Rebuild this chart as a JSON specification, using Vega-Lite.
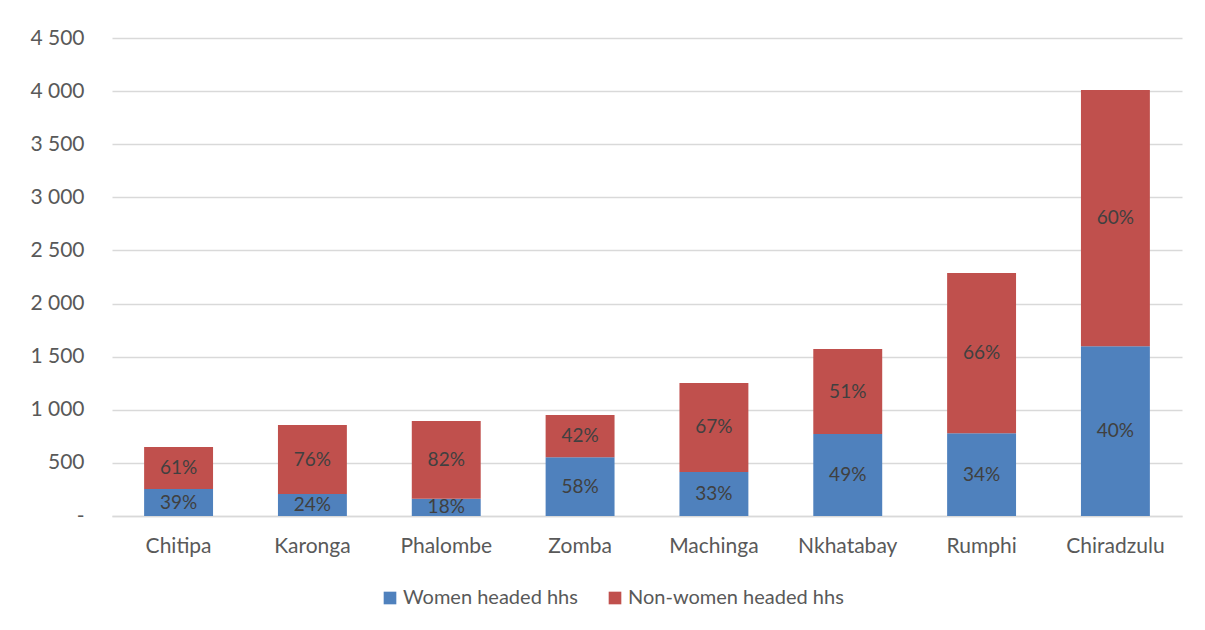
{
  "$schema": "https://vega.github.io/schema/vega-lite/v6.json",
  "width": 1070,
  "height": 478,
  "autosize": "none",
  "padding": {"left": 112, "top": 38, "right": 23, "bottom": 114},
  "background": "white",
  "config": {
    "view": {"stroke": null},
    "font": "Lato"
  },
  "data": {
    "values": [
      {"district": "Chitipa", "series": "Women headed hhs", "ord": 1, "value": 254, "label": "39%"},
      {"district": "Chitipa", "series": "Non-women headed hhs", "ord": 2, "value": 396, "label": "61%"},
      {"district": "Karonga", "series": "Women headed hhs", "ord": 1, "value": 206, "label": "24%"},
      {"district": "Karonga", "series": "Non-women headed hhs", "ord": 2, "value": 651, "label": "76%"},
      {"district": "Phalombe", "series": "Women headed hhs", "ord": 1, "value": 163, "label": "18%"},
      {"district": "Phalombe", "series": "Non-women headed hhs", "ord": 2, "value": 731, "label": "82%"},
      {"district": "Zomba", "series": "Women headed hhs", "ord": 1, "value": 553, "label": "58%"},
      {"district": "Zomba", "series": "Non-women headed hhs", "ord": 2, "value": 398, "label": "42%"},
      {"district": "Machinga", "series": "Women headed hhs", "ord": 1, "value": 415, "label": "33%"},
      {"district": "Machinga", "series": "Non-women headed hhs", "ord": 2, "value": 837, "label": "67%"},
      {"district": "Nkhatabay", "series": "Women headed hhs", "ord": 1, "value": 772, "label": "49%"},
      {"district": "Nkhatabay", "series": "Non-women headed hhs", "ord": 2, "value": 800, "label": "51%"},
      {"district": "Rumphi", "series": "Women headed hhs", "ord": 1, "value": 780, "label": "34%"},
      {"district": "Rumphi", "series": "Non-women headed hhs", "ord": 2, "value": 1508, "label": "66%"},
      {"district": "Chiradzulu", "series": "Women headed hhs", "ord": 1, "value": 1597, "label": "40%"},
      {"district": "Chiradzulu", "series": "Non-women headed hhs", "ord": 2, "value": 2414, "label": "60%"}
    ]
  },
  "transform": [
    {"stack": "value", "groupby": ["district"], "sort": [{"field": "ord", "order": "ascending"}], "as": ["v0", "v1"]},
    {"calculate": "(datum.v0 + datum.v1) / 2", "as": "vmid"}
  ],
  "encoding": {
    "x": {
      "field": "district",
      "type": "nominal",
      "sort": ["Chitipa", "Karonga", "Phalombe", "Zomba", "Machinga", "Nkhatabay", "Rumphi", "Chiradzulu"],
      "scale": {"paddingInner": 0.485, "paddingOuter": 0.24},
      "axis": {
        "title": null,
        "labelAngle": 0,
        "labelFontSize": 21,
        "labelColor": "#595959",
        "labelPadding": 19,
        "ticks": false,
        "domain": true,
        "domainColor": "#d9d9d9",
        "domainWidth": 1.5
      }
    }
  },
  "layer": [
    {
      "mark": {"type": "bar"},
      "encoding": {
        "y": {
          "field": "v0",
          "type": "quantitative",
          "scale": {"domain": [0, 4500]},
          "axis": {
            "title": null,
            "values": [0, 500, 1000, 1500, 2000, 2500, 3000, 3500, 4000, 4500],
            "labelExpr": "datum.value == 0 ? '-' : replace(format(datum.value, ','), ',', ' ')",
            "labelFontSize": 21,
            "labelColor": "#595959",
            "labelPadding": 28,
            "ticks": false,
            "domain": false,
            "grid": true,
            "gridColor": "#d9d9d9",
            "gridWidth": 1.5
          }
        },
        "y2": {"field": "v1"},
        "color": {
          "field": "series",
          "type": "nominal",
          "scale": {
            "domain": ["Women headed hhs", "Non-women headed hhs"],
            "range": ["#4f81bd", "#c0504d"]
          },
          "legend": {
            "title": null,
            "orient": "none",
            "direction": "horizontal",
            "legendX": 268,
            "legendY": 550,
            "symbolType": "square",
            "symbolSize": 160,
            "symbolStrokeWidth": 0,
            "labelFontSize": 20,
            "labelColor": "#595959",
            "labelLimit": 400,
            "columnPadding": 27,
            "labelOffset": 3
          }
        }
      }
    },
    {
      "mark": {"type": "text", "fontSize": 19, "color": "#404040", "baseline": "middle"},
      "encoding": {
        "y": {"field": "vmid", "type": "quantitative"},
        "text": {"field": "label"}
      }
    }
  ]
}
